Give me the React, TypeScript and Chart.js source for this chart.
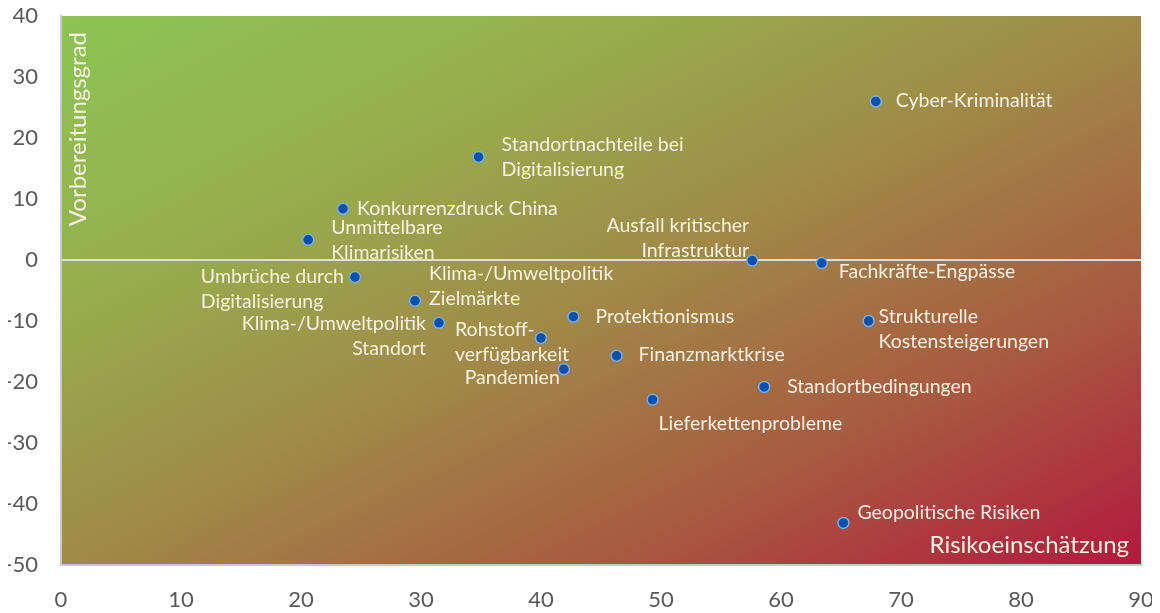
import React, { useEffect, useRef } from "react";
import { Chart, registerables } from "chart.js";

Chart.register(...registerables);

// ---- data ----
const riskLabels: string[] = [
  "Cyber-Kriminalität",
  "Standortnachteile bei\nDigitalisierung",
  "Konkurrenzdruck China",
  "Unmittelbare\nKlimarisiken",
  "Umbrüche durch\nDigitalisierung",
  "Klima-/Umweltpolitik\nZielmärkte",
  "Klima-/Umweltpolitik\nStandort",
  "Rohstoff-\nverfügbarkeit",
  "Protektionismus",
  "Pandemien",
  "Finanzmarktkrise",
  "Lieferkettenprobleme",
  "Standortbedingungen",
  "Ausfall kritischer\nInfrastruktur",
  "Fachkräfte-Engpässe",
  "Strukturelle\nKostensteigerungen",
  "Geopolitische Risiken",
];
const riskAssessment: number[] = [
  67.9, 34.8, 23.5, 20.6, 24.5, 29.5, 31.5, 40.0, 42.7, 41.9, 46.3, 49.3, 58.6, 57.6, 63.4, 67.3, 65.2,
];
const preparedness: number[] = [
  26.0, 16.9, 8.4, 3.3, -2.8, -6.7, -10.3, -12.8, -9.3, -17.9, -15.7, -22.9, -20.8, -0.1, -0.5, -10.0, -43.1,
];
const xTicks: number[] = [0, 10, 20, 30, 40, 50, 60, 70, 80, 90];
const yTicks: number[] = [40, 30, 20, 10, 0, -10, -20, -30, -40, -50];
const yTitle = "Vorbereitungsgrad";
const xTitle = "Risikoeinschätzung";

// ---- label placement (layout, not data): [dx, dy, mode] ----
// mode L: left-aligned text starting at dx; R: right-aligned ending at dx; B: left-aligned block whose right edge is at dx
const labelPlacement: [number, number, string][] = [
  [20, -1, "L"],
  [23, -12, "L"],
  [14, 0, "L"],
  [23, -12, "L"],
  [-11, 0, "B"],
  [14, -27, "L"],
  [-13, 1, "R"],
  [-86, -8, "L"],
  [22, 0, "L"],
  [-4, 9, "R"],
  [22, -1, "L"],
  [6, 24, "L"],
  [23, 0, "L"],
  [-3, -35, "R"],
  [17, 9, "L"],
  [10, -4, "L"],
  [14, -10, "L"],
];

const FONT_FAMILY = "Lato";
const LABEL_FONT = `19.5px ${FONT_FAMILY}`;
const LINE_H = 25;
const TEXT_COLOR = "#f6f1e2";

const bgPlugin = {
  id: "bgGradient",
  beforeDraw(chart: any) {
    const { ctx, chartArea } = chart;
    const { left, top, right, bottom } = chartArea;
    ctx.save();
    ctx.translate(left, top);
    ctx.scale(right - left, bottom - top);
    const g = ctx.createLinearGradient(0, 0, 1, 1);
    g.addColorStop(0, "#8cc453");
    g.addColorStop(0.25, "#96b04e");
    g.addColorStop(0.5, "#a08a48");
    g.addColorStop(0.75, "#a85a40");
    g.addColorStop(1, "#b2193e");
    ctx.fillStyle = g;
    ctx.fillRect(0, 0, 1, 1);
    ctx.restore();
  },
};

const labelPlugin = {
  id: "pointLabels",
  afterDatasetsDraw(chart: any) {
    const { ctx, chartArea } = chart;
    const meta = chart.getDatasetMeta(0);
    ctx.save();
    ctx.font = LABEL_FONT;
    ctx.fillStyle = TEXT_COLOR;
    ctx.textBaseline = "middle";
    meta.data.forEach((pt: any, i: number) => {
      const lines = riskLabels[i].split("\n");
      const [dx, dy, mode] = labelPlacement[i];
      let x = pt.x + dx;
      if (mode === "R") {
        ctx.textAlign = "right";
      } else if (mode === "B") {
        ctx.textAlign = "left";
        const w = Math.max(...lines.map((l) => ctx.measureText(l).width));
        x = pt.x + dx - w;
      } else {
        ctx.textAlign = "left";
      }
      lines.forEach((l, k) => ctx.fillText(l, x, pt.y + dy + k * LINE_H));
    });
    // axis titles inside the plot
    ctx.font = `24px ${FONT_FAMILY}`;
    ctx.textBaseline = "middle";
    ctx.textAlign = "right";
    ctx.fillText(xTitle, chartArea.right - 12, chartArea.bottom - 20);
    ctx.translate(chartArea.left + 17, chartArea.top + 16);
    ctx.rotate(-Math.PI / 2);
    ctx.textAlign = "right";
    ctx.fillText(yTitle, 0, 0);
    ctx.restore();
  },
};

export default function App() {
  const ref = useRef<HTMLCanvasElement | null>(null);
  useEffect(() => {
    if (!ref.current) return;
    const points = riskAssessment.map((x, i) => ({ x, y: preparedness[i] }));
    const tickFont = { family: FONT_FAMILY, size: 22 };
    const chart = new Chart(ref.current, {
      type: "scatter",
      data: {
        datasets: [
          {
            data: points,
            backgroundColor: "#0a50ae",
            borderColor: "#7aaee0",
            borderWidth: 1.5,
            pointRadius: 5.5,
          },
        ],
      },
      options: {
        responsive: true,
        maintainAspectRatio: false,
        animation: false,
        layout: { padding: { top: 8, right: 11, left: 0, bottom: 0 } },
        plugins: { legend: { display: false }, tooltip: { enabled: false } },
        scales: {
          x: {
            type: "linear",
            min: 0,
            max: 90,
            afterBuildTicks: (s: any) => {
              s.ticks = xTicks.map((v) => ({ value: v }));
            },
            afterFit: (s: any) => {
              s.height = 48;
              s.paddingLeft = 0;
              s.paddingRight = 0;
            },
            ticks: { font: tickFont, color: "#595959", padding: 22, maxRotation: 0 },
            grid: { display: false, drawTicks: false },
            border: { display: true, color: "#c9c9c9", width: 2 },
          },
          y: {
            type: "linear",
            min: -50,
            max: 40,
            afterBuildTicks: (s: any) => {
              s.ticks = yTicks.map((v) => ({ value: v }));
            },
            afterFit: (s: any) => {
              s.width = 53;
              s.paddingTop = 0;
              s.paddingBottom = 0;
            },
            ticks: { font: tickFont, color: "#595959", padding: 23 },
            grid: {
              display: true,
              drawTicks: false,
              color: (c: any) => (c.tick && c.tick.value === 0 ? "#dedede" : "rgba(0,0,0,0)"),
              lineWidth: 2,
            },
            border: { display: true, color: "#c9c9c9", width: 2 },
          },
        },
      },
      plugins: [bgPlugin, labelPlugin],
    } as any);
    return () => chart.destroy();
  }, []);
  return (
    <div style={{ width: 1144, height: 605, position: "relative" }}>
      <canvas ref={ref} />
    </div>
  );
}
